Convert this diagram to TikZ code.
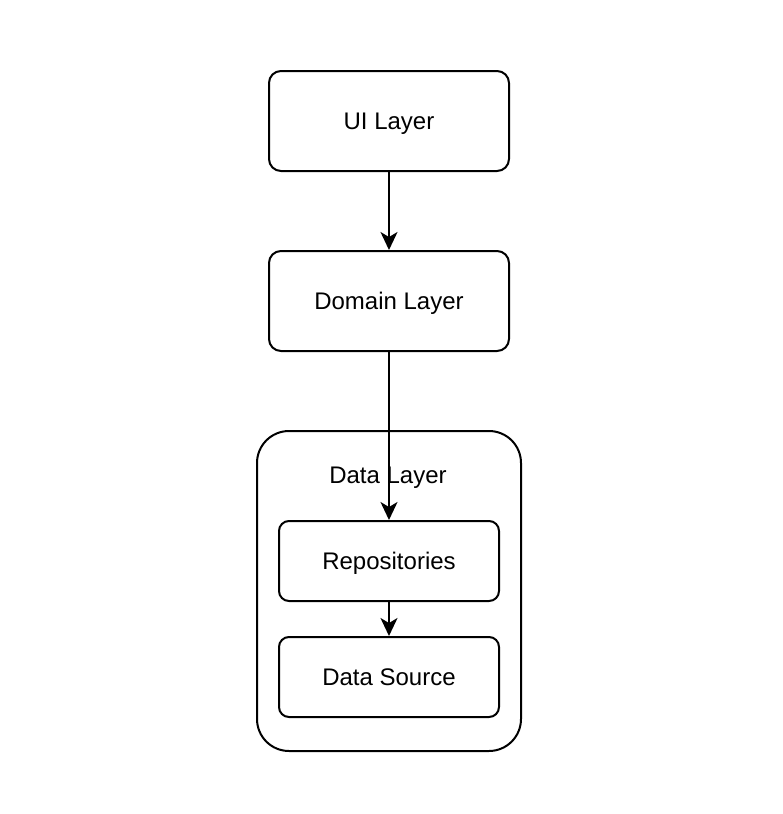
\documentclass[tikz,border=0pt]{standalone}
\usepackage{fontspec}
\setmainfont{Liberation Sans}
\usetikzlibrary{arrows.meta}
\begin{document}
\begin{tikzpicture}[x=1pt,y=-1pt,
  every node/.style={font=\fontsize{24}{28}\selectfont},
  layerbox/.style={draw=black, line width=2pt, fill=white, rounded corners=12pt,
    minimum width=240pt, minimum height=100pt, inner sep=0pt,
    text height=17.2pt, text depth=0pt},
  subbox/.style={layerbox, rounded corners=10pt, minimum width=220pt, minimum height=80pt},
  container/.style={draw=black, line width=2pt, fill=white, rounded corners=32pt,
    minimum width=264pt, minimum height=320pt, inner sep=0pt},
  arr/.style={draw=black, line width=2pt, -{Stealth[length=18pt,width=17pt,inset=5pt]}}]
\useasboundingbox (0,0) rectangle (782,814);
\node[layerbox] (ui) at (389,121) {UI Layer};
\node[layerbox] (dom) at (389,301) {Domain Layer};
\node[container] (data) at (389,591) {};
\node[anchor=base, inner sep=0pt] (datalbl) at (388,483) {Data Layer};
\node[subbox] (repo) at (389,561) {Repositories};
\node[subbox] (src) at (389,677) {Data Source};
\draw[arr] (ui.south) -- (dom.north);
\draw[arr] (dom.south) -- (repo.north);
\draw[arr] (repo.south) -- (src.north);
\end{tikzpicture}
\end{document}
